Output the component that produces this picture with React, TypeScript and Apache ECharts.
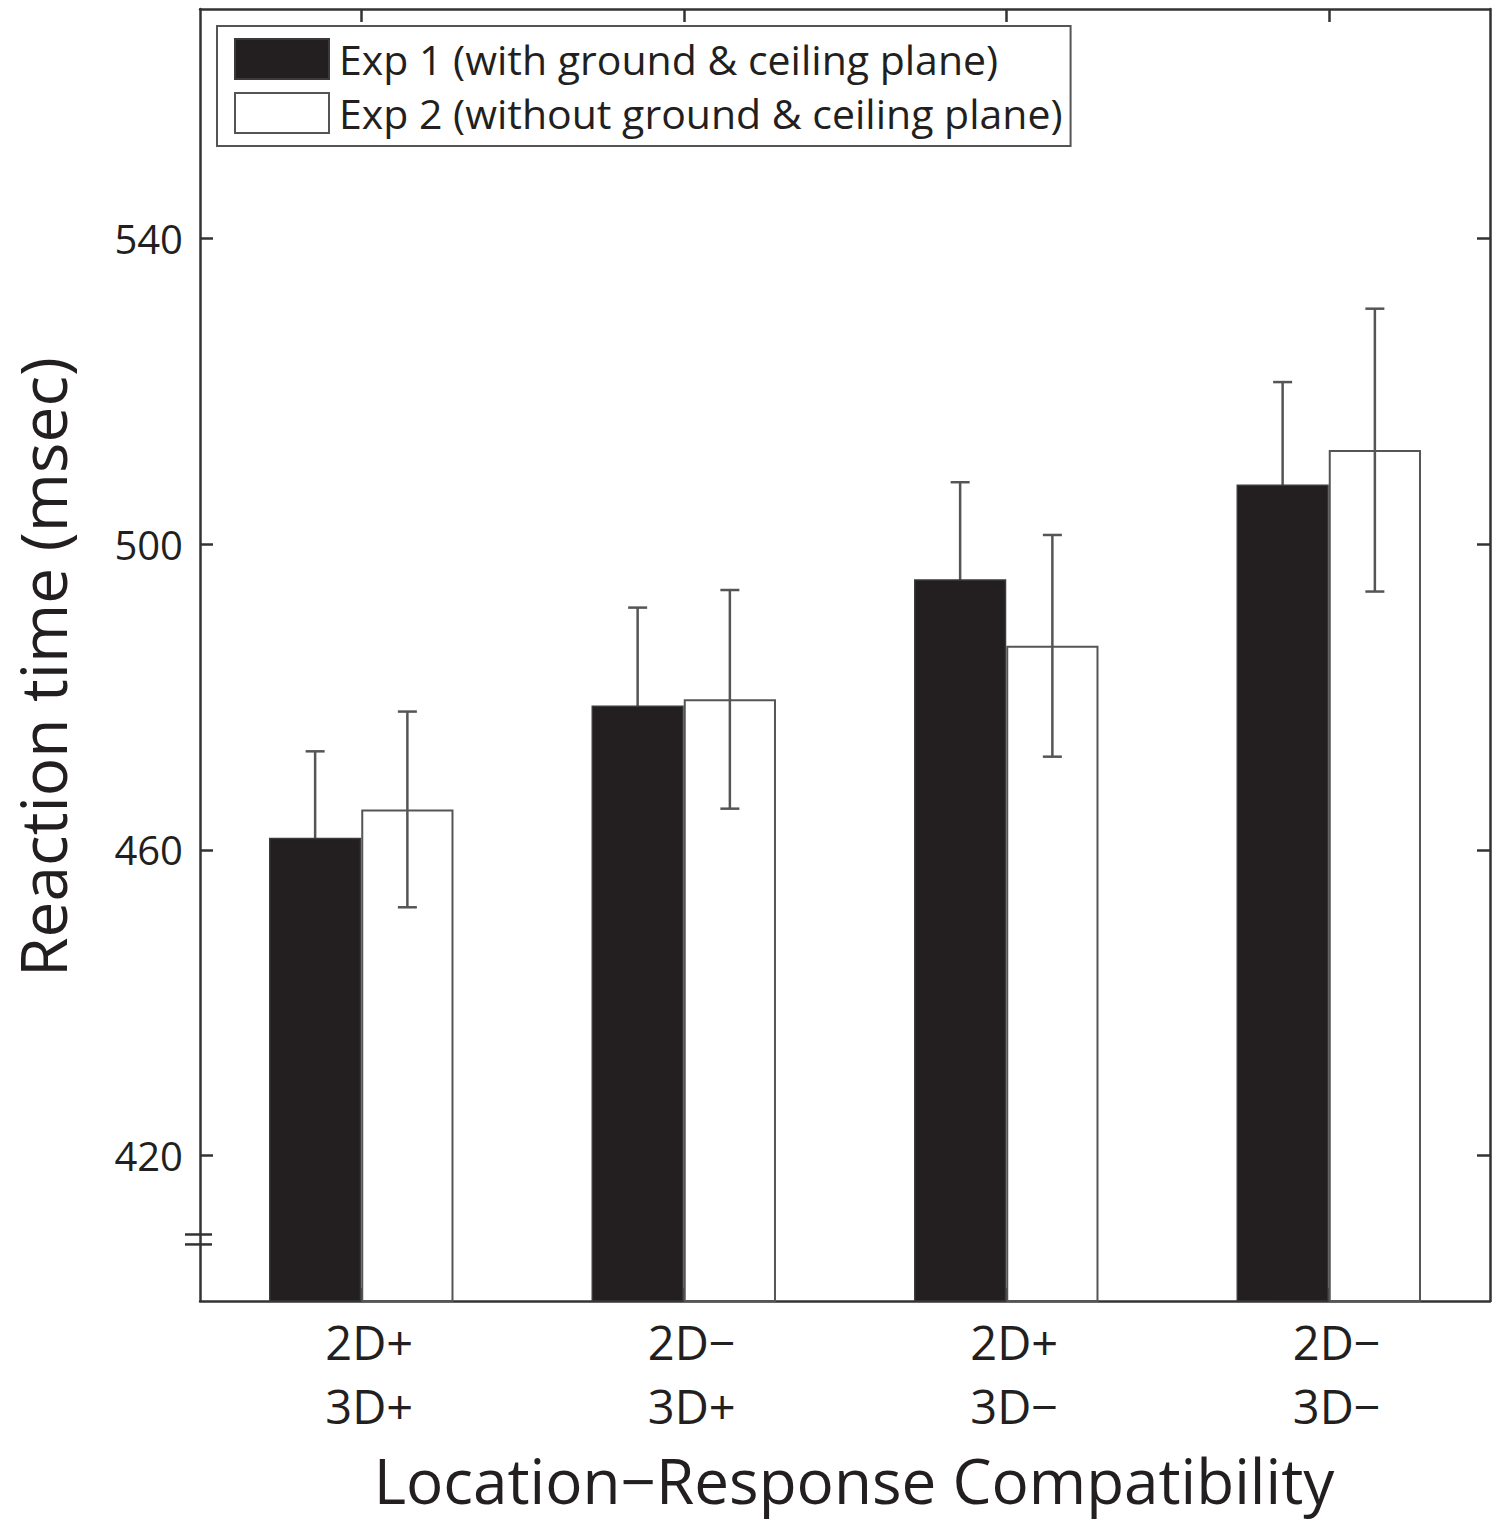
import React, { useEffect, useRef } from "react";
import * as echarts from "echarts";

const categories = ["2D+\n3D+", "2D\u2212\n3D+", "2D+\n3D\u2212", "2D\u2212\n3D\u2212"];
const exp1Values = [461.6, 478.9, 495.4, 507.8];
const exp1Errors = [11.3, 12.8, 12.7, 13.4];
const exp2Values = [465.3, 479.7, 486.7, 512.3];
const exp2Errors = [12.8, 14.3, 14.5, 18.5];
const yTicks = [420, 460, 500, 540];
const yMin = 401;
const yMax = 570;
const breakValues = [409.7, 408.4];

const FONT = "'Open Sans', 'Noto Sans', sans-serif";
const TEXT = "#231f20";
const AXIS = "#333333";
const BAR_W = 0.286;

function errorSeries(name: string, values: number[], errors: number[], sign: number, z: number) {
  return {
    type: "custom",
    name: name + " err",
    xAxisIndex: 0,
    yAxisIndex: 0,
    z,
    silent: true,
    data: values.map((v, i) => [i, v, errors[i]]),
    renderItem: (params: any, api: any) => {
      const i = api.value(0);
      const v = api.value(1);
      const e = api.value(2);
      const c = api.coord([i, v]);
      const band = api.size([1, 0])[0];
      const x = c[0] + (sign * band * BAR_W) / 2;
      const top = api.coord([i, v + e])[1];
      const bot = api.coord([i, v - e])[1];
      const cap = 9.5;
      const style = { stroke: "#555555", lineWidth: 2.5 };
      return {
        type: "group",
        children: [
          { type: "line", shape: { x1: x, y1: top, x2: x, y2: bot }, style },
          { type: "line", shape: { x1: x - cap, y1: top, x2: x + cap, y2: top }, style },
          { type: "line", shape: { x1: x - cap, y1: bot, x2: x + cap, y2: bot }, style },
        ],
      };
    },
  };
}

export default function App() {
  const ref = useRef<HTMLDivElement>(null);
  useEffect(() => {
    if (!ref.current) return;
    const chart = echarts.init(ref.current, null, { renderer: "svg" });
    const tickStyle = { show: true, inside: true, length: 13, lineStyle: { color: AXIS, width: 2.5 } };
    chart.setOption({
      animation: false,
      backgroundColor: "#ffffff",
      textStyle: { fontFamily: FONT, color: TEXT },
      grid: { left: 200, top: 9, right: 10, bottom: 224, containLabel: false, outerBoundsMode: "none" },
      legend: {
        show: true,
        left: 217,
        top: 26,
        orient: "vertical",
        selectedMode: false,
        itemWidth: 94,
        itemHeight: 40,
        itemGap: 12,
        padding: [12, 8, 12, 17],
        borderColor: "#555555",
        borderWidth: 2,
        backgroundColor: "#ffffff",
        icon: "rect",
        textStyle: { fontFamily: FONT, fontSize: 41, lineHeight: 40, color: TEXT, padding: [0, 0, 0, 5] },
        data: ["Exp 1 (with ground & ceiling plane)", "Exp 2 (without ground & ceiling plane)"],
      },
      xAxis: [
        {
          type: "category",
          data: categories,
          position: "bottom",
          boundaryGap: true,
          axisLine: { show: true, lineStyle: { color: AXIS, width: 2.5 } },
          axisTick: { ...tickStyle, alignWithLabel: true },
          axisLabel: { fontFamily: FONT, fontSize: 47, color: TEXT, lineHeight: 64, margin: 9, padding: [0, 0, 0, 16] },
          name: "Location\u2212Response Compatibility",
          nameLocation: "middle",
          nameGap: 148,
          nameTextStyle: { fontFamily: FONT, fontSize: 62, color: TEXT, padding: [0, 0, 0, 18] },
          splitLine: { show: false },
        },
        {
          type: "category",
          data: categories,
          position: "top",
          boundaryGap: true,
          axisLine: { show: true, lineStyle: { color: AXIS, width: 2.5 } },
          axisTick: { ...tickStyle, alignWithLabel: true },
          axisLabel: { show: false },
          splitLine: { show: false },
        },
      ],
      yAxis: [
        {
          type: "value",
          min: yMin,
          max: yMax,
          position: "left",
          axisLine: { show: true, lineStyle: { color: AXIS, width: 2.5 } },
          axisTick: { ...tickStyle, customValues: yTicks },
          axisLabel: { fontFamily: FONT, fontSize: 40, color: TEXT, margin: 17, customValues: yTicks },
          splitLine: { show: false },
          name: "Reaction time (msec)",
          nameLocation: "middle",
          nameGap: 128,
          nameTextStyle: { fontFamily: FONT, fontSize: 64, lineHeight: 60, color: TEXT, padding: [0, 24, 0, 0] },
        },
        {
          type: "value",
          min: yMin,
          max: yMax,
          position: "right",
          axisLine: { show: true, lineStyle: { color: AXIS, width: 2.5 } },
          axisTick: { ...tickStyle, customValues: yTicks },
          axisLabel: { show: false, customValues: yTicks },
          splitLine: { show: false },
        },
      ],
      series: [
        {
          type: "bar",
          name: "Exp 1 (with ground & ceiling plane)",
          data: exp1Values,
          barWidth: BAR_W * 100 + "%",
          barGap: "0%",
          z: 2,
          itemStyle: { color: "#231f20", borderColor: "#3a3a3a", borderWidth: 1.5 },
        },
        {
          type: "bar",
          name: "Exp 2 (without ground & ceiling plane)",
          data: exp2Values,
          barWidth: BAR_W * 100 + "%",
          barGap: "0%",
          z: 2,
          itemStyle: { color: "#ffffff", borderColor: "#555555", borderWidth: 2 },
        },
        errorSeries("Exp 1", exp1Values, exp1Errors, -1, 1),
        errorSeries("Exp 2", exp2Values, exp2Errors, 1, 3),
      ],
    });
    const gridLeft = 200;
    const lines = breakValues.map((v) => {
      const y = chart.convertToPixel({ yAxisIndex: 0 }, v) as number;
      return {
        type: "line",
        shape: { x1: gridLeft - 15, y1: y, x2: gridLeft + 12, y2: y },
        style: { stroke: AXIS, lineWidth: 2.5 },
        z: 10,
      };
    });
    chart.setOption({ graphic: lines });
    return () => chart.dispose();
  }, []);
  return (
    <div
      ref={ref}
      style={{ position: "absolute", left: 0, top: 0, width: 1500, height: 1525, background: "#fff" }}
    />
  );
}
